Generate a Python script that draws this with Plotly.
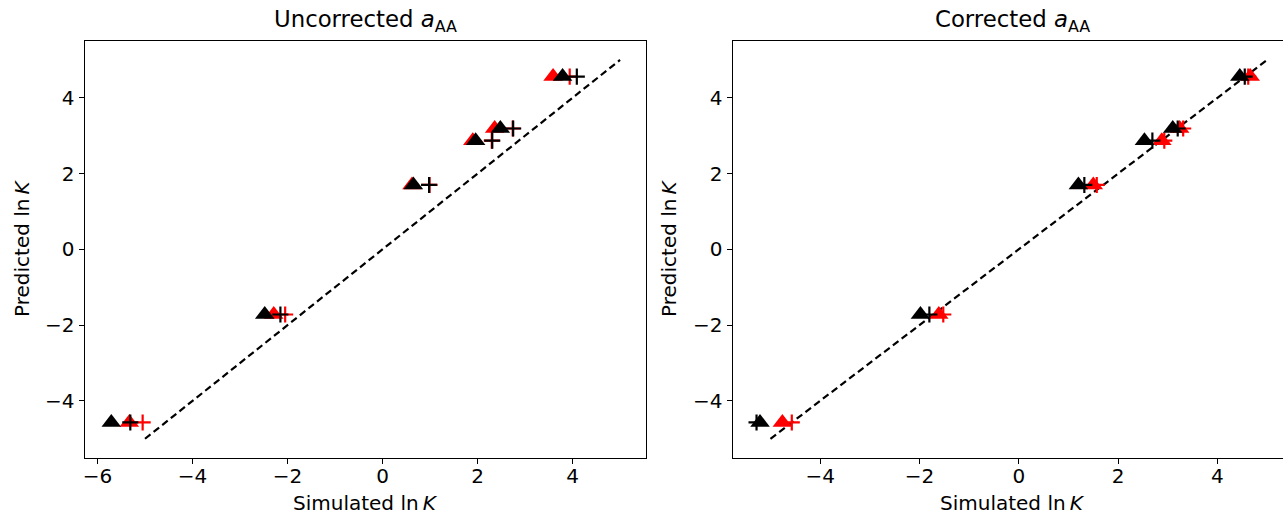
import plotly.graph_objects as go

# ---- data ----
predicted = [4.56, 3.19, 2.87, 1.70, -1.72, -4.57]

unc_red_tri = [3.59, 2.36, 1.90, 0.62, -2.29, -5.33]
unc_red_plus = [3.94, 2.74, 2.30, 0.99, -2.05, -5.05]
unc_black_tri = [3.79, 2.48, 1.96, 0.65, -2.48, -5.71]
unc_black_plus = [4.09, 2.75, 2.31, 0.98, -2.15, -5.31]

cor_red_tri = [4.66, 3.24, 2.88, 1.50, -1.61, -4.76]
cor_red_plus = [4.62, 3.31, 2.93, 1.57, -1.52, -4.57]
cor_black_tri = [4.45, 3.10, 2.53, 1.20, -1.98, -5.21]
cor_black_plus = [4.55, 3.20, 2.69, 1.32, -1.80, -5.28]

parity = [-5, 5]
x_ticks = [-6, -4, -2, 0, 2, 4]
y_ticks = [-4, -2, 0, 2, 4]

W, H = 1283, 515
FONT = "DejaVu Sans"

fig = go.Figure()


def add_panel(xa, ya, red_tri, red_plus, black_tri, black_plus):
    fig.add_trace(go.Scatter(x=parity, y=parity, mode="lines",
                             line=dict(color="black", width=2.2, dash="7px,4px"),
                             xaxis=xa, yaxis=ya, showlegend=False, hoverinfo="skip"))
    fig.add_trace(go.Scatter(x=red_tri, y=predicted, mode="markers",
                             marker=dict(symbol="triangle-up", size=17, color="#ff0000",
                                         line=dict(width=0)),
                             xaxis=xa, yaxis=ya, showlegend=False))
    fig.add_trace(go.Scatter(x=red_plus, y=predicted, mode="markers",
                             marker=dict(symbol="cross-thin", size=11.5, color="#ff0000",
                                         line=dict(width=2.2, color="#ff0000")),
                             xaxis=xa, yaxis=ya, showlegend=False))
    fig.add_trace(go.Scatter(x=black_tri, y=predicted, mode="markers",
                             marker=dict(symbol="triangle-up", size=17, color="black",
                                         line=dict(width=0)),
                             xaxis=xa, yaxis=ya, showlegend=False))
    fig.add_trace(go.Scatter(x=black_plus, y=predicted, mode="markers",
                             marker=dict(symbol="cross-thin", size=11.5, color="black",
                                         line=dict(width=2.2, color="black")),
                             xaxis=xa, yaxis=ya, showlegend=False))


add_panel("x", "y", unc_red_tri, unc_red_plus, unc_black_tri, unc_black_plus)
add_panel("x2", "y2", cor_red_tri, cor_red_plus, cor_black_tri, cor_black_plus)

ydom = [1 - 457.7 / H, 1 - 41 / H]
ax_common = dict(showgrid=False, zeroline=False, showline=True, linecolor="black",
                 linewidth=1.2, ticks="outside", ticklen=5, tickwidth=1.2,
                 tickcolor="black", tickfont=dict(family=FONT, size=20, color="black"),
                 automargin=False)

fig.update_layout(
    width=W, height=H, margin=dict(l=0, r=0, t=0, b=0),
    paper_bgcolor="white", plot_bgcolor="white",
    font=dict(family=FONT, color="black"),
    xaxis=dict(ax_common, domain=[84.7 / W, 645.7 / W], range=[-6.27, 5.54],
               tickvals=x_ticks, mirror=True, anchor="y", ticklabelstandoff=-5),
    yaxis=dict(ax_common, domain=ydom, range=[-5.5, 5.5], tickvals=y_ticks,
               mirror=True, anchor="x"),
    xaxis2=dict(ax_common, domain=[732.7 / W, 1.0], range=[-5.76, 5.32],
                tickvals=x_ticks, mirror=True, anchor="y2", ticklabelstandoff=-5),
    yaxis2=dict(ax_common, domain=ydom, range=[-5.5, 5.5], tickvals=y_ticks,
                mirror=False, anchor="x2"),
)

left_cx = (84.7 + 645.7) / 2 / W
right_cx = (732.7 + 1292.4) / 2 / W
annots = [
    dict(text="Uncorrected <i>a</i><sub>AA</sub>", x=left_cx, y=1 - 21 / H, size=22.8, angle=0),
    dict(text="Corrected <i>a</i><sub>AA</sub>", x=right_cx, y=1 - 21 / H, size=22.8, angle=0),
    dict(text="Simulated ln\u2009<i>K</i>", x=left_cx, y=1 - 503 / H, size=20, angle=0),
    dict(text="Simulated ln\u2009<i>K</i>", x=right_cx, y=1 - 503 / H, size=20, angle=0),
    dict(text="Predicted ln\u2009<i>K</i>", x=22 / W, y=1 - 249 / H, size=20, angle=-90),
    dict(text="Predicted ln\u2009<i>K</i>", x=669 / W, y=1 - 249 / H, size=20, angle=-90),
]
for a in annots:
    fig.add_annotation(text=a["text"], x=a["x"], y=a["y"], xref="paper", yref="paper",
                       xanchor="center", yanchor="middle", showarrow=False,
                       textangle=a["angle"],
                       font=dict(family=FONT, size=a["size"], color="black"))

fig.write_html("out.html")
